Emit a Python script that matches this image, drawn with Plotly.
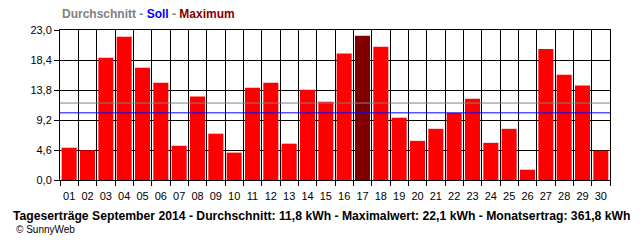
import plotly.graph_objects as go

days = [f"{d:02d}" for d in range(1, 31)]
values = [4.95, 4.55, 18.75, 21.98, 17.2, 14.9, 5.25, 12.8, 7.1, 4.2,
          14.15, 14.9, 5.57, 13.85, 12.0, 19.4, 22.1, 20.45, 9.55, 6.0,
          7.85, 10.27, 12.47, 5.7, 7.85, 1.58, 20.1, 16.15, 14.5, 4.5]
avg_value = 11.8
soll_value = 10.3
y_ticks = [0, 4.6, 9.2, 13.8, 18.4, 23.0]
y_ticklabels = ["0,0", "4,6", "9,2", "13,8", "18,4", "23,0"]

FONT = "Liberation Sans, Arial, sans-serif"
x_pos = list(range(1, len(days) + 1))
max_idx = values.index(max(values))
colors = ["#800000" if i == max_idx else "#FF0000" for i in range(len(values))]

fig = go.Figure()
fig.add_trace(go.Bar(x=x_pos, y=values, marker=dict(color=colors, line=dict(width=0)),
                     width=0.82, hoverinfo="skip"))

fig.add_shape(type="line", xref="paper", x0=0, x1=1, yref="y", y0=avg_value, y1=avg_value,
              line=dict(color="#808080", width=1), layer="above")
fig.add_shape(type="line", xref="paper", x0=0, x1=1, yref="y", y0=soll_value, y1=soll_value,
              line=dict(color="#0000FF", width=1), layer="above")

fig.update_layout(
    width=640, height=240,
    margin=dict(l=60, r=30, t=30, b=60),
    paper_bgcolor="white", plot_bgcolor="white",
    showlegend=False,
    font=dict(family=FONT, size=11, color="black"),
)
fig.update_xaxes(
    range=[0.5, len(days) + 0.5],
    tickmode="array", tickvals=x_pos, ticktext=days,
    ticks="", showgrid=False, zeroline=False,
    showline=True, linecolor="black", linewidth=1, mirror=True,
    tickfont=dict(size=11), ticklabelstandoff=6,
    minor=dict(tick0=0.5, dtick=1, ticks="outside", ticklen=5, tickcolor="black",
               tickwidth=1, showgrid=True, gridcolor="black", gridwidth=1),
)
fig.update_yaxes(
    range=[0, 23], tickmode="array", tickvals=y_ticks, ticktext=y_ticklabels,
    ticks="outside", ticklen=5, tickcolor="black", tickwidth=1,
    showgrid=True, gridcolor="black", gridwidth=1, zeroline=False,
    showline=True, linecolor="black", linewidth=1, mirror=True,
    tickfont=dict(size=11),
)

fig.add_annotation(
    xref="paper", yref="paper", x=0, y=1 + 16 / 150, xanchor="left", yanchor="middle",
    showarrow=False,
    text="<b><span style='color:#808080'>Durchschnitt - </span>"
         "<span style='color:#0000FF'>Soll</span>"
         "<span style='color:#808080'> - </span>"
         "<span style='color:#800000'>Maximum</span></b>",
    font=dict(family=FONT, size=12),
)
fig.add_annotation(
    xref="paper", yref="paper", x=(321 - 60) / 550, y=-35.5 / 150,
    xanchor="center", yanchor="middle", showarrow=False,
    text="<b>Tageserträge September 2014 - Durchschnitt: 11,8 kWh - Maximalwert: 22,1 kWh - Monatsertrag: 361,8 kWh</b>",
    font=dict(family=FONT, size=12.2, color="black"),
)
fig.add_annotation(
    xref="paper", yref="paper", x=(14 - 60) / 550, y=-49.5 / 150,
    xanchor="left", yanchor="middle", showarrow=False,
    text="© SunnyWeb", font=dict(family=FONT, size=10, color="black"),
)

fig.write_html("out.html")
